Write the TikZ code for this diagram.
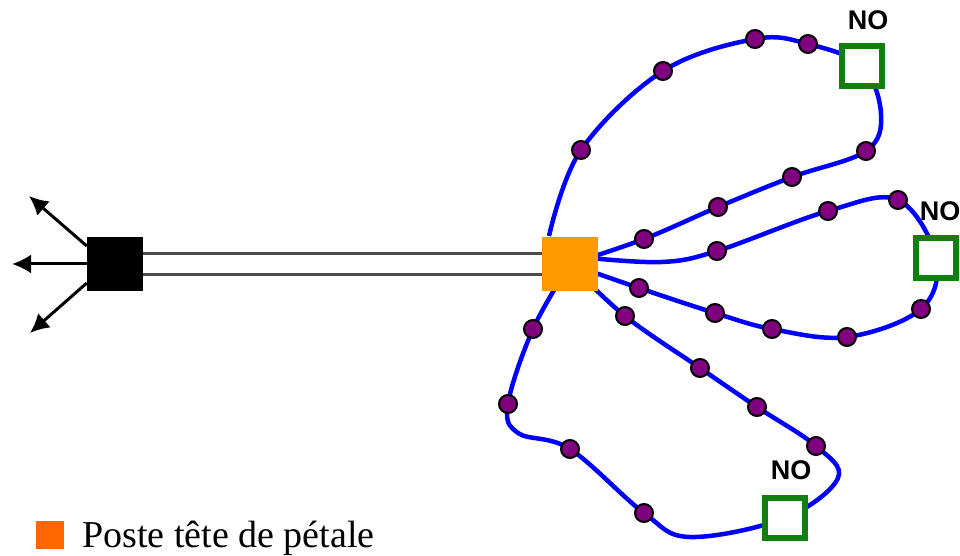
\documentclass[tikz,border=0pt]{standalone}
\usepackage{fontspec}
\setmainfont{Liberation Serif}
\newfontfamily\labelfont{Liberation Sans}
\usetikzlibrary{arrows.meta,backgrounds}

\definecolor{headcol}{HTML}{FF9900}
\definecolor{legcol}{HTML}{FF6600}
\definecolor{dotcol}{HTML}{800080}
\definecolor{switchcol}{HTML}{0F800F}

\begin{document}
\begin{tikzpicture}[
    x=1pt, y=1pt,
    dot/.style={circle, draw=black, line width=2pt, fill=dotcol, minimum size=18pt, inner sep=0pt},
    switch/.style={rectangle, draw=switchcol, line width=6pt, fill=white, minimum size=40.5pt, inner sep=0pt},
    head/.style={rectangle, fill=headcol, minimum width=56pt, minimum height=54pt, inner sep=0pt},
    feeder/.style={blue, line width=4.5pt, line join=round},
    trunk/.style={black!70, line width=3pt},
    arr/.style={-{Latex[length=19pt,width=19pt]}, black, line width=3pt},
    nolabel/.style={font=\labelfont\bfseries\fontsize{27}{27}\selectfont, inner sep=0pt}
]
\useasboundingbox (0,0) rectangle (960,556);

\node[rectangle, fill=black, minimum width=56pt, minimum height=54pt, inner sep=0pt] (hub) at (115,292) {};
\node[head] (post) at (570,292) {};

\coordinate (out1) at (29,360);
\coordinate (out2) at (12,292);
\coordinate (out3) at (30,223);

% first petal
\node[dot] (a1) at (581,406) {};
\node[dot] (a2) at (663,485) {};
\node[dot] (a3) at (755,517) {};
\node[dot] (a4) at (808,512) {};
\node[switch] (sw1) at (862,490) {};
\node[nolabel] (no1) at (868,536) {NO};
\coordinate (a5) at (881,442);
\node[dot] (a6) at (866,405) {};
\node[dot] (a7) at (792,379) {};
\node[dot] (a8) at (718,349) {};
\node[dot] (a9) at (644,317) {};
\coordinate (a0) at (549,320);

% second petal
\coordinate (b0) at (590,298);
\coordinate (b9) at (662,294);
\node[dot] (b1) at (717,305) {};
\node[dot] (b2) at (828,345) {};
\node[dot] (b3) at (898,356) {};
\node[switch] (sw2) at (936,298) {};
\node[nolabel] (no2) at (940,345) {NO};
\node[dot] (b4) at (921,247) {};
\node[dot] (b5) at (847,219) {};
\node[dot] (b6) at (772,227) {};
\node[dot] (b7) at (715,243) {};
\node[dot] (b8) at (639,268) {};

% third petal
\node[dot] (c1) at (533,227) {};
\node[dot] (c2) at (508,152) {};
\coordinate (c0) at (518,123);
\node[dot] (c3) at (570,107) {};
\node[dot] (c4) at (644,43) {};
\coordinate (c5) at (690,19);
\node[switch] (sw3) at (785,38) {};
\node[nolabel] (no3) at (791,86) {NO};
\coordinate (c6) at (838,78);
\node[dot] (c7) at (816,110) {};
\node[dot] (c8) at (757,149) {};
\node[dot] (c9) at (700,188) {};
\node[dot] (c10) at (625,240) {};

\node[rectangle, fill=legcol, minimum size=28pt, inner sep=0pt] (legbox) at (50,21) {};
\node[anchor=base west, inner sep=0pt, font=\fontsize{38}{38}\selectfont] (legtext) at (82,8.5) {Poste tête de pétale};

\begin{scope}[on background layer]
\draw[trunk] ([yshift=10.5pt]hub.east) -- ([yshift=10.5pt]post.west);
\draw[trunk] ([yshift=-10.5pt]hub.east) -- ([yshift=-10.5pt]post.west);
\draw[arr] ([yshift=18pt]hub.west) -- (out1);
\draw[arr] (hub.west) -- (out2);
\draw[arr] ([yshift=-19pt]hub.west) -- (out3);
\draw[feeder] plot[smooth, tension=0.6] coordinates {(a0) (a1) (a2) (a3) (a4) (sw1) (a5) (a6) (a7) (a8) (a9) (post)};
\draw[feeder] plot[smooth, tension=0.6] coordinates {(b0) (b9) (b1) (b2) (b3) (sw2) (b4) (b5) (b6) (b7) (b8) (post)};
\draw[feeder] plot[smooth, tension=0.6] coordinates {(post) (c1) (c2) (c0) (c3) (c4) (c5) (sw3) (c6) (c7) (c8) (c9) (c10) (post)};
\end{scope}
\end{tikzpicture}
\end{document}
